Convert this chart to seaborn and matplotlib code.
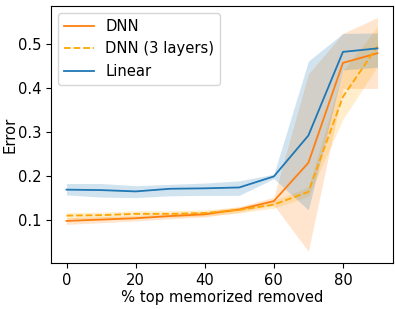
import numpy as np
import pandas as pd
import matplotlib
matplotlib.use("Agg")
import matplotlib.pyplot as plt
import seaborn as sns

plt.rcParams['font.family'] = ['DejaVu Sans']
plt.rcParams['font.size'] = 10.6

pct_removed = [0, 10, 20, 30, 40, 50, 60, 70, 80, 90]

dnn_mean = [0.099, 0.102, 0.105, 0.110, 0.114, 0.125, 0.144, 0.231, 0.458, 0.480]
dnn_low  = [0.091, 0.095, 0.099, 0.104, 0.108, 0.119, 0.135, 0.030, 0.400, 0.400]
dnn_high = [0.106, 0.109, 0.111, 0.116, 0.120, 0.131, 0.153, 0.433, 0.525, 0.561]

dnn3_mean = [0.111, 0.112, 0.115, 0.115, 0.117, 0.124, 0.136, 0.165, 0.381, 0.496]
dnn3_low  = [0.104, 0.105, 0.108, 0.108, 0.110, 0.117, 0.128, 0.155, 0.330, 0.450]
dnn3_high = [0.118, 0.119, 0.122, 0.122, 0.124, 0.131, 0.145, 0.176, 0.440, 0.540]

lin_mean = [0.170, 0.169, 0.166, 0.172, 0.173, 0.175, 0.200, 0.293, 0.483, 0.491]
lin_low  = [0.158, 0.153, 0.152, 0.156, 0.157, 0.157, 0.195, 0.124, 0.442, 0.448]
lin_high = [0.184, 0.184, 0.179, 0.182, 0.185, 0.190, 0.205, 0.462, 0.525, 0.526]

series = [
    ("DNN", dnn_mean, dnn_low, dnn_high, "#ff7f0e", "-"),
    ("DNN (3 layers)", dnn3_mean, dnn3_low, dnn3_high, "orange", "--"),
    ("Linear", lin_mean, lin_low, lin_high, "#1f77b4", "-"),
]

fig = plt.figure(figsize=(3.95, 3.09), dpi=100)
ax = fig.add_axes([0.129, 0.149, 0.866, 0.832])

for name, m, lo, hi, col, ls in series:
    df = pd.DataFrame({"x": pct_removed, "y": m})
    sns.lineplot(data=df, x="x", y="y", ax=ax, color=col, linestyle=ls,
                 label=name, linewidth=1.3)
    ax.fill_between(pct_removed, lo, hi, color=col, alpha=0.2, linewidth=0)

ax.set_xlabel("% top memorized removed", labelpad=2)
ax.set_ylabel("Error", labelpad=0)
ax.set_xticks([0, 20, 40, 60, 80])
ax.set_yticks([0.1, 0.2, 0.3, 0.4, 0.5])
ax.legend(loc="upper left")

fig.savefig("out.png", dpi=100)
